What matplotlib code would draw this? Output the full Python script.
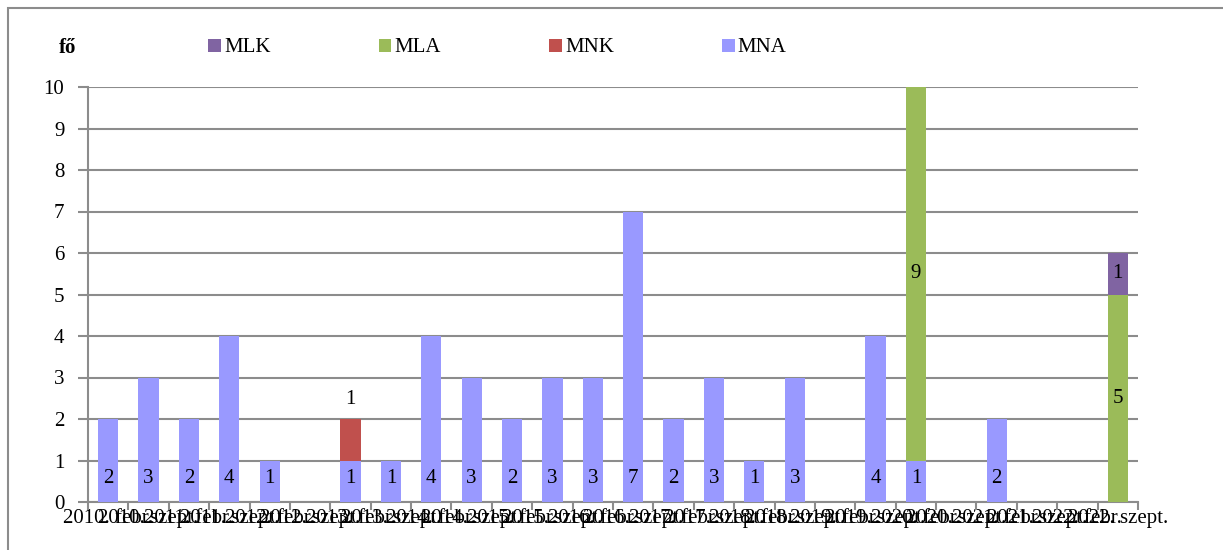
import numpy as np
import matplotlib
matplotlib.use('Agg')
import matplotlib.pyplot as plt
from matplotlib.patches import Rectangle

plt.rcParams['font.family'] = ['Liberation Serif', 'DejaVu Serif']
plt.rcParams['font.size'] = 15

# categories: admission rounds
periods = []
for y in range(2010, 2023):
    periods.append(f'{y}. febr.')
    periods.append(f'{y}. szept.')

mna = [2, 3, 2, 4, 1, 0, 1, 1, 4, 3, 2, 3, 3, 7, 2, 3, 1, 3, 0, 4, 1, 0, 2, 0, 0, 0]
mnk = [0, 0, 0, 0, 0, 0, 1, 0, 0, 0, 0, 0, 0, 0, 0, 0, 0, 0, 0, 0, 0, 0, 0, 0, 0, 0]
mla = [0, 0, 0, 0, 0, 0, 0, 0, 0, 0, 0, 0, 0, 0, 0, 0, 0, 0, 0, 0, 9, 0, 0, 0, 0, 5]
mlk = [0, 0, 0, 0, 0, 0, 0, 0, 0, 0, 0, 0, 0, 0, 0, 0, 0, 0, 0, 0, 0, 0, 0, 0, 0, 1]

colors = {'MNA': '#9999FF', 'MNK': '#C0504D', 'MLA': '#9BBB59', 'MLK': '#8064A2'}
grey = '#8c8c8c'

fig = plt.figure(figsize=(12.23, 5.5), dpi=100)
ax = fig.add_axes([88 / 1223, 1 - 502 / 550, (1138 - 88) / 1223, (502 - 87) / 550])

x = np.arange(len(periods))
width = 0.5
bottom = np.zeros(len(periods))
bars = {}
for name, vals in [('MNA', mna), ('MNK', mnk), ('MLA', mla), ('MLK', mlk)]:
    vals = np.array(vals)
    bars[name] = ax.bar(x, vals, width, bottom=bottom, color=colors[name],
                        label=name, zorder=3)
    for i, v in enumerate(vals):
        if v == 0:
            continue
        if name == 'MNA':
            # label sits at the base of the bar
            ax.annotate(str(v), (i, bottom[i]), xytext=(0, 17),
                        textcoords='offset points', ha='center', va='center',
                        zorder=4)
        elif name == 'MNK':
            ax.annotate(str(v), (i, bottom[i] + v), xytext=(0, 14),
                        textcoords='offset points', ha='center', va='center',
                        zorder=4)
        else:
            ax.text(i, bottom[i] + v / 2, str(v), ha='center', va='center',
                    zorder=4)
    bottom += vals

ax.set_xlim(-0.5, len(periods) - 0.5)
ax.set_ylim(0, 10)
ax.set_yticks(np.arange(0, 11, 1))
ax.yaxis.grid(True, color=grey, lw=1.5, zorder=0)
ax.set_axisbelow(True)

ax.set_xticks(x)
ax.set_xticklabels(periods)
ax.set_xticks(np.arange(-0.5, len(periods), 1), minor=True)
ax.tick_params(axis='x', which='major', length=0, pad=5)
ax.tick_params(axis='x', which='minor', length=6, width=1.5, color=grey)
ax.tick_params(axis='y', length=7, width=1.5, color=grey, pad=10)

for s in ['top', 'right']:
    ax.spines[s].set_visible(False)
for s in ['left', 'bottom']:
    ax.spines[s].set_color(grey)
    ax.spines[s].set_linewidth(1.5)

handles = [bars['MLK'], bars['MLA'], bars['MNK'], bars['MNA']]
fig.legend(handles, ['MLK', 'MLA', 'MNK', 'MNA'], ncol=4, frameon=False,
           loc='center left', bbox_to_anchor=(198 / 1223, 1 - 48 / 550),
           borderpad=0, handlelength=0.6, handleheight=0.6,
           handletextpad=0.15, columnspacing=5.2)

fig.text(68 / 1223, 1 - 48 / 550, 'fő', ha='center', va='center',
         fontweight='bold')

fig.patches.append(Rectangle((8 / 1223, -0.05), 1.1, 1 - 8 / 550 + 0.05,
                             transform=fig.transFigure, fill=False,
                             ec=grey, lw=1.5))

fig.savefig('out.png', dpi=100)
